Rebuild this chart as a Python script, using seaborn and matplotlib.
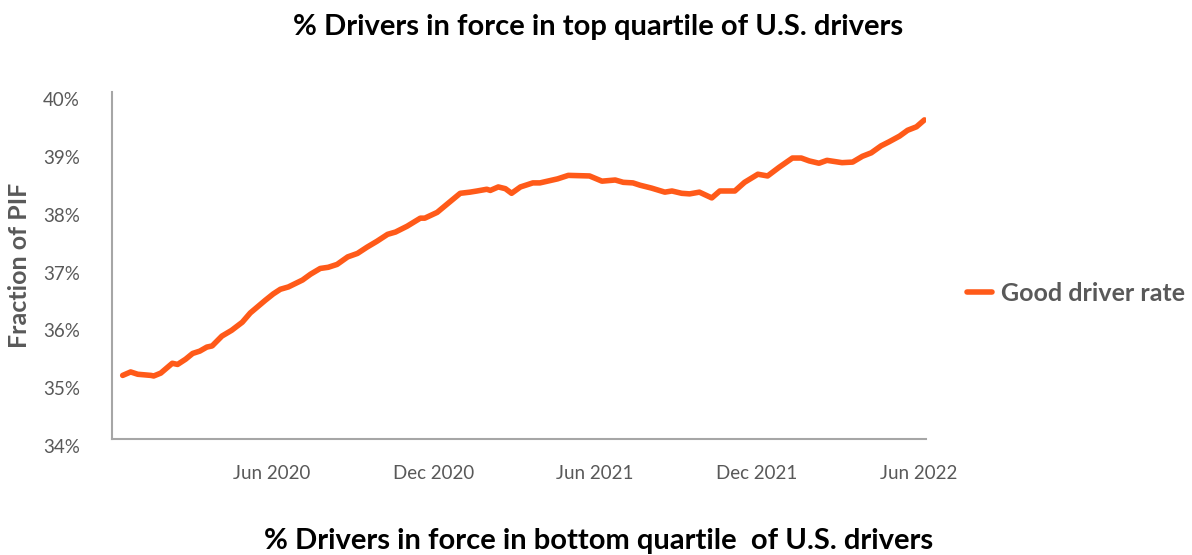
import pandas as pd
import matplotlib.pyplot as plt
import matplotlib.dates as mdates
from matplotlib.ticker import FuncFormatter
import seaborn as sns

# values (share of drivers in top quartile, %)
dates = [
    "2019-12-16", "2019-12-25", "2020-01-02", "2020-01-17", "2020-01-20", "2020-01-28",
    "2020-02-10", "2020-02-16", "2020-02-25", "2020-03-04", "2020-03-12", "2020-03-20",
    "2020-03-26", "2020-04-06", "2020-04-17", "2020-04-29", "2020-05-08", "2020-05-25",
    "2020-06-03", "2020-06-11", "2020-06-20", "2020-07-06", "2020-07-15", "2020-07-26",
    "2020-08-04", "2020-08-14", "2020-08-26", "2020-09-06", "2020-09-17", "2020-09-28",
    "2020-10-10", "2020-10-19", "2020-11-01", "2020-11-16", "2020-11-21", "2020-12-05",
    "2020-12-16", "2020-12-31", "2021-01-11", "2021-01-19", "2021-01-30", "2021-02-03",
    "2021-02-12", "2021-02-20", "2021-02-27", "2021-03-09", "2021-03-23", "2021-03-31",
    "2021-04-20", "2021-05-02", "2021-05-26", "2021-06-09", "2021-06-24", "2021-07-03",
    "2021-07-14", "2021-07-22", "2021-08-04", "2021-08-19", "2021-08-27", "2021-09-07",
    "2021-09-16", "2021-09-27", "2021-10-11", "2021-10-20", "2021-11-06", "2021-11-17",
    "2021-12-02", "2021-12-13", "2021-12-26", "2022-01-10", "2022-01-20", "2022-01-29",
    "2022-02-09", "2022-02-18", "2022-03-07", "2022-03-19", "2022-03-30", "2022-04-09",
    "2022-04-20", "2022-04-29", "2022-05-11", "2022-05-20", "2022-05-30", "2022-06-08",
]
good_rate = [
    35.10, 35.16, 35.12, 35.10, 35.09, 35.14,
    35.31, 35.29, 35.38, 35.48, 35.52, 35.59,
    35.61, 35.78, 35.88, 36.02, 36.18, 36.40,
    36.51, 36.59, 36.63, 36.75, 36.85, 36.95,
    36.97, 37.02, 37.15, 37.21, 37.32, 37.42,
    37.54, 37.58, 37.68, 37.82, 37.82, 37.92,
    38.06, 38.25, 38.27, 38.29, 38.32, 38.30,
    38.36, 38.33, 38.25, 38.36, 38.43, 38.43,
    38.50, 38.56, 38.55, 38.46, 38.48, 38.44,
    38.43, 38.39, 38.34, 38.27, 38.29, 38.25,
    38.24, 38.27, 38.17, 38.29, 38.29, 38.44,
    38.58, 38.55, 38.70, 38.86, 38.86, 38.81,
    38.77, 38.82, 38.78, 38.79, 38.89, 38.95,
    39.07, 39.14, 39.24, 39.34, 39.40, 39.52,
]
tick_dates = ["2020-06-01", "2020-12-01", "2021-06-01", "2021-12-01", "2022-06-01"]
y_ticks = [34, 35, 36, 37, 38, 39, 40]

df = pd.DataFrame({"date": pd.to_datetime(dates), "rate": good_rate})

sns.set_style("white")
plt.rcParams['font.family'] = ['Lato', 'DejaVu Sans']

fig = plt.figure(figsize=(11.92, 5.55), dpi=100)
ax = fig.add_axes([0.094, 0.209, 0.683, 0.625])

sns.lineplot(data=df, x="date", y="rate", ax=ax, color="#FF5A19",
             linewidth=4, label="Good driver rate", legend=False)

ax.set_xlim(pd.Timestamp("2019-12-04"), pd.Timestamp("2022-06-10"))
ax.set_ylim(34, 40)
ax.set_yticks(y_ticks)
ax.yaxis.set_major_formatter(FuncFormatter(lambda v, p: f"{v:.0f}%"))
ax.set_xticks(pd.to_datetime(tick_dates))
ax.xaxis.set_major_formatter(mdates.DateFormatter("%b %Y"))
ax.tick_params(axis="both", length=0, labelsize=13.5, labelcolor="#595959")
ax.tick_params(axis="x", pad=19)
ax.tick_params(axis="y", pad=23)
for lbl in ax.get_yticklabels():
    lbl.set_verticalalignment("top")

sns.despine(ax=ax)
for side in ["left", "bottom"]:
    ax.spines[side].set_color("#A6A6A6")
    ax.spines[side].set_linewidth(1.5)

ax.set_xlabel("")
ax.set_ylabel("Fraction of PIF", fontsize=18, fontweight="bold", color="#595959", labelpad=9)

fig.text(0.502, 0.952, "% Drivers in force in top quartile of U.S. drivers",
         ha="center", va="center", fontsize=21, fontweight="bold", color="black")
fig.text(0.502, 0.025, "% Drivers in force in bottom quartile  of U.S. drivers",
         ha="center", va="center", fontsize=21, fontweight="bold", color="black")

fig.legend(loc="center left", bbox_to_anchor=(0.811, 0.472), frameon=False,
           borderpad=0, borderaxespad=0, handlelength=1.0, handletextpad=0.36,
           prop={"size": 18, "weight": "bold"}, labelcolor="#595959")

plt.savefig("out.png", dpi=100)
